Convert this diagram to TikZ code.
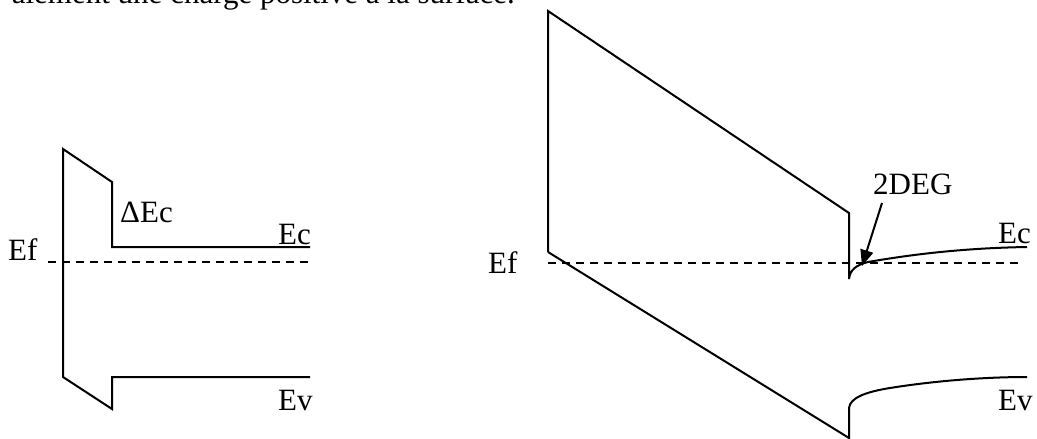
\documentclass[tikz,border=0pt]{standalone}
\usepackage{fontspec}
\setmainfont{Liberation Serif}
\usetikzlibrary{arrows.meta}
\begin{document}
\begin{tikzpicture}[x=1pt,y=-1pt,
  band/.style={line width=2pt,line join=miter},
  fermi/.style={line width=1.5pt,dash pattern=on 8pt off 6pt},
  lbl/.style={anchor=base west,inner sep=0pt,font=\fontsize{31}{36}\selectfont},
  pointer/.style={line width=2pt,-{Triangle[length=16pt,width=13pt]}}]
\useasboundingbox (0,0) rectangle (1037,439);
% cut-off caption line
\node[anchor=base east,inner sep=0pt,font=\fontsize{31}{36}\selectfont] (cap) at (515,4) {alement une charge positive à la surface.};
% left diagram
\coordinate (L1) at (63,149);
\coordinate (L2) at (112,182);
\coordinate (L3) at (112,247);
\coordinate (L4) at (310,247);
\coordinate (L5) at (63,377);
\coordinate (L6) at (112,409);
\coordinate (L7) at (112,377);
\coordinate (L8) at (310,377);
\coordinate (LF1) at (48,262);
\coordinate (LF2) at (310,262);
\draw[band] (L4) -- (L3) -- (L2) -- (L1) -- (L5) -- (L6) -- (L7) -- (L8);
\draw[fermi] (LF1) -- (LF2);
\node[lbl] (lef) at (8,260) {Ef};
\node[lbl] (ldec) at (120,222) {ΔEc};
\node[lbl] (lec) at (278,244) {Ec};
\node[lbl] (lev) at (278,410) {Ev};
% right diagram
\coordinate (R1) at (548,11);
\coordinate (R2) at (849,213);
\coordinate (R3) at (849,279);
\coordinate (R4) at (1027,247);
\coordinate (R5) at (548,252);
\coordinate (R6) at (849,438);
\coordinate (R7) at (849,408);
\coordinate (R8) at (1027,377);
\coordinate (RF1) at (548,263);
\coordinate (RF2) at (1022,263);
\draw[band] (R5) -- (R1) -- (R2) -- (R3)
  .. controls (850,270) and (856,265) .. (868,262)
  .. controls (920,253) and (970,248) .. (R4);
\draw[band] (R5) -- (R6) -- (R7)
  .. controls (850,398) and (865,392) .. (890,388)
  .. controls (940,380) and (990,377) .. (R8);
\draw[fermi] (RF1) -- (RF2);
\node[lbl] (ref) at (488,273) {Ef};
\node[lbl] (rdeg) at (873,194) {2DEG};
\node[lbl] (rec) at (998,243) {Ec};
\node[lbl] (rev) at (998,410) {Ev};
\coordinate (tip) at (862,266);
\coordinate (tail) at (882,203);
\draw[pointer] (tail) -- (tip);
\end{tikzpicture}
\end{document}
